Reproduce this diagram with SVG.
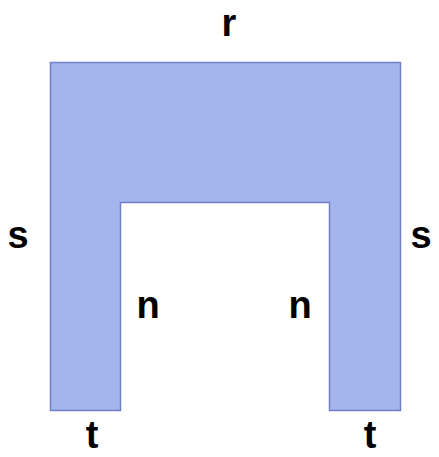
<svg xmlns="http://www.w3.org/2000/svg" width="439" height="457" viewBox="0 0 439 457">
<style>
.shape{fill:#a4b4ec;stroke:#6f7fc8;stroke-width:1.5}
.lbl{font-family:"Liberation Sans",Arial,sans-serif;font-weight:bold;font-size:38px;fill:#000;text-anchor:middle}
</style>
<rect width="439" height="457" fill="#fff"/>
<g id="arch">
<path class="shape" d="M50.5,62.5 H400.5 V410.5 H329.5 V202.5 H120.5 V410.5 H50.5 Z"/>
</g>
<g id="labels">
<text class="lbl" x="229" y="36">r</text>
<text class="lbl" x="18" y="248">s</text>
<text class="lbl" x="421" y="248">s</text>
<text class="lbl" x="148" y="318">n</text>
<text class="lbl" x="300" y="318">n</text>
<text class="lbl" x="92" y="448">t</text>
<text class="lbl" x="370" y="448">t</text>
</g>
</svg>
